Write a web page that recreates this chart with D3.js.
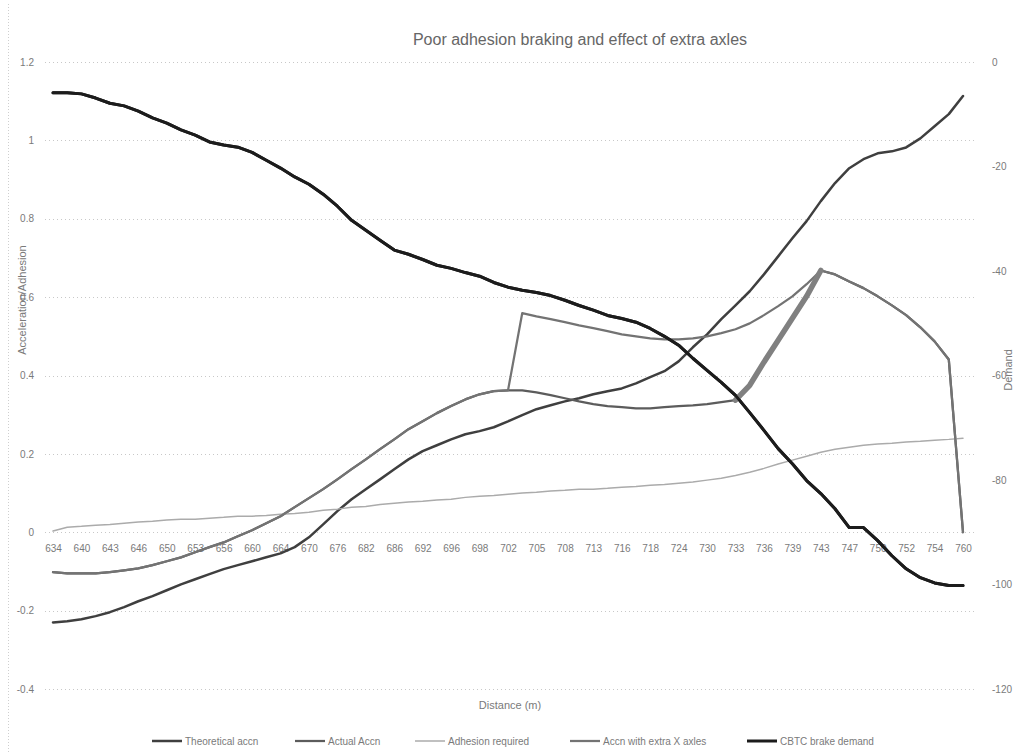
<!DOCTYPE html>
<html>
<head>
<meta charset="utf-8">
<script src="https://cdn.jsdelivr.net/npm/d3@7"></script>
<style>
  html, body { margin: 0; padding: 0; background: #fff; }
  svg { display: block; font-family: "Liberation Sans", "Open Sans", sans-serif; }
</style>
</head>
<body>
<svg id="chart" width="1013" height="754"></svg>
<script>
// Distance labels shown along the category axis (every second sample)
const distanceLabels = [634, 640, 643, 646, 650, 653, 656, 660, 664, 670, 676, 682, 686, 692, 696, 698,
  702, 705, 708, 713, 716, 718, 724, 730, 733, 736, 739, 743, 747, 750, 752, 754, 760];

// Left axis series (acceleration / adhesion)
const theoreticalAccn = [-0.230, -0.227, -0.222, -0.214, -0.204, -0.191, -0.176, -0.163, -0.148, -0.133,
  -0.120, -0.107, -0.094, -0.084, -0.074, -0.064, -0.054, -0.038, -0.013, 0.020,
  0.054, 0.084, 0.110, 0.135, 0.161, 0.186, 0.207, 0.222, 0.237, 0.250,
  0.258, 0.268, 0.283, 0.299, 0.314, 0.324, 0.334, 0.342, 0.352, 0.360,
  0.367, 0.380, 0.396, 0.411, 0.436, 0.472, 0.505, 0.544, 0.579, 0.615,
  0.658, 0.704, 0.750, 0.794, 0.845, 0.891, 0.929, 0.952, 0.967, 0.972,
  0.982, 1.005, 1.036, 1.067, 1.113];

const actualAccn = [-0.102, -0.105, -0.105, -0.105, -0.102, -0.097, -0.092, -0.084, -0.074, -0.064,
  -0.051, -0.038, -0.026, -0.010, 0.005, 0.023, 0.041, 0.064, 0.087, 0.110,
  0.135, 0.161, 0.186, 0.212, 0.237, 0.263, 0.283, 0.304, 0.322, 0.339,
  0.352, 0.360, 0.362, 0.362, 0.357, 0.350, 0.342, 0.334, 0.327, 0.322,
  0.319, 0.316, 0.316, 0.319, 0.322, 0.324, 0.327, 0.332, 0.337, 0.375,
  0.434, 0.490, 0.546, 0.602, 0.668, 0.658, 0.640, 0.623, 0.602, 0.579,
  0.554, 0.523, 0.487, 0.441, 0];

const adhesionRequired = [0.003, 0.013, 0.015, 0.018, 0.020, 0.023, 0.026, 0.028, 0.031, 0.033,
  0.033, 0.036, 0.038, 0.041, 0.041, 0.043, 0.046, 0.048, 0.051, 0.056,
  0.059, 0.064, 0.066, 0.071, 0.074, 0.077, 0.079, 0.082, 0.084, 0.089,
  0.092, 0.094, 0.097, 0.100, 0.102, 0.105, 0.107, 0.110, 0.110, 0.112,
  0.115, 0.117, 0.120, 0.122, 0.125, 0.128, 0.133, 0.138, 0.145, 0.153,
  0.163, 0.174, 0.184, 0.194, 0.204, 0.212, 0.217, 0.222, 0.225, 0.227,
  0.230, 0.232, 0.235, 0.237, 0.240];

const accnExtraAxles = [-0.102, -0.105, -0.105, -0.105, -0.102, -0.097, -0.092, -0.084, -0.074, -0.064,
  -0.051, -0.038, -0.026, -0.010, 0.005, 0.023, 0.041, 0.064, 0.087, 0.110,
  0.135, 0.161, 0.186, 0.212, 0.237, 0.263, 0.283, 0.304, 0.322, 0.339,
  0.352, 0.360, 0.362, 0.559, 0.551, 0.544, 0.536, 0.528, 0.521, 0.513,
  0.505, 0.500, 0.495, 0.492, 0.492, 0.495, 0.500, 0.508, 0.518, 0.533,
  0.554, 0.577, 0.602, 0.633, 0.668, 0.658, 0.640, 0.623, 0.602, 0.579,
  0.554, 0.523, 0.487, 0.441, 0];

// Right axis series (brake demand, %)
const cbtcBrakeDemand = [-5.9, -5.9, -6.1, -6.9, -7.9, -8.4, -9.4, -10.7, -11.7, -13.0,
  -14.0, -15.3, -15.9, -16.3, -17.3, -18.8, -20.3, -22.0, -23.4, -25.3,
  -27.6, -30.3, -32.2, -34.1, -36.0, -36.8, -37.8, -38.9, -39.5, -40.3,
  -41.0, -42.2, -43.1, -43.7, -44.1, -44.7, -45.6, -46.6, -47.5, -48.5,
  -49.1, -49.8, -51.0, -52.5, -54.2, -56.7, -59.0, -61.3, -63.8, -67.1,
  -70.5, -74.0, -76.9, -80.1, -82.6, -85.5, -89.1, -89.1, -91.6, -94.5,
  -97.0, -98.7, -99.7, -100.2, -100.2];

const leftTicks = [1.2, 1, 0.8, 0.6, 0.4, 0.2, 0, -0.2, -0.4];
const rightTicks = [0, -20, -40, -60, -80, -100, -120];

const svg = d3.select("#chart");
const plot = { left: 45, right: 975, top: 62, bottom: 689 };

const n = theoreticalAccn.length;
const x = d3.scaleLinear().domain([0, n - 1]).range([53, 963]);
const yL = d3.scaleLinear().domain([-0.4, 1.2]).range([plot.bottom, plot.top]);
const yR = d3.scaleLinear().domain([-120, 0]).range([plot.bottom, plot.top]);

const textColor = "#7a7a7a";

// Chart area border
svg.append("line")
  .attr("x1", 8.5).attr("x2", 8.5).attr("y1", 4).attr("y2", 754)
  .attr("stroke", "#cfcfcf").attr("stroke-dasharray", "1,2");

// Horizontal gridlines
svg.append("g").selectAll("line").data(leftTicks).join("line")
  .attr("x1", plot.left).attr("x2", plot.right)
  .attr("y1", d => Math.round(yL(d)) + 0.5).attr("y2", d => Math.round(yL(d)) + 0.5)
  .attr("stroke", "#c8c8c8").attr("stroke-width", 1).attr("stroke-dasharray", "1,3");

// Left axis
const gL = svg.append("g").attr("transform", `translate(${plot.left - 8},0)`)
  .call(d3.axisLeft(yL).tickValues(leftTicks).tickSize(0).tickFormat(d => String(d)));
gL.select(".domain").remove();
gL.selectAll("text").attr("fill", textColor).attr("font-size", 10);

// Right axis
const gR = svg.append("g").attr("transform", `translate(${plot.right + 14},0)`)
  .call(d3.axisRight(yR).tickValues(rightTicks).tickSize(0).tickFormat(d => String(d)));
gR.select(".domain").remove();
gR.selectAll("text").attr("fill", textColor).attr("font-size", 10);

// Category axis labels
const gX = svg.append("g").attr("transform", `translate(0,${yL(0)})`)
  .call(d3.axisBottom(x).tickValues(d3.range(0, n, 2)).tickSize(0).tickPadding(13)
    .tickFormat((d, i) => distanceLabels[i]));
gX.select(".domain").remove();
gX.selectAll("text").attr("fill", textColor).attr("font-size", 10);

// Titles
svg.append("text").attr("x", 580).attr("y", 45).attr("text-anchor", "middle")
  .attr("font-size", 16).attr("fill", "#666").text("Poor adhesion braking and effect of extra axles");
svg.append("text").attr("x", 510).attr("y", 709).attr("text-anchor", "middle")
  .attr("font-size", 11).attr("fill", textColor).text("Distance (m)");
svg.append("text").attr("transform", "translate(26,300) rotate(-90)").attr("text-anchor", "middle")
  .attr("font-size", 11).attr("fill", textColor).text("Acceleration/Adhesion");
svg.append("text").attr("transform", "translate(1012,370) rotate(-90)").attr("text-anchor", "middle")
  .attr("font-size", 11).attr("fill", textColor).text("Demand");

// Series definitions
const series = [
  { name: "Theoretical accn", values: theoreticalAccn, y: yL, color: "#3f3f3f", width: 2.5 },
  { name: "Actual Accn", values: actualAccn, y: yL, color: "#5c5c5c", width: 2.25 },
  { name: "Adhesion required", values: adhesionRequired, y: yL, color: "#ababab", width: 1.5 },
  { name: "Accn with extra X axles", values: accnExtraAxles, y: yL, color: "#737373", width: 2.25 },
  { name: "CBTC brake demand", values: cbtcBrakeDemand, y: yR, color: "#1c1c1c", width: 3 }
];

const lines = svg.append("g").attr("fill", "none").attr("stroke-linejoin", "round").attr("stroke-linecap", "round");
series.forEach(s => {
  const gen = d3.line().x((d, i) => x(i)).y(d => s.y(d));
  lines.append("path").datum(s.values)
    .attr("d", gen).attr("stroke", s.color).attr("stroke-width", s.width);
});

// Heavier stroke where the actual acceleration climbs back to its peak
const recoverIdx = d3.range(48, 55);
lines.append("path").datum(recoverIdx)
  .attr("d", d3.line().x(i => x(i)).y(i => yL(actualAccn[i])))
  .attr("stroke", "#808080").attr("stroke-width", 5.5);

// Redraw brake demand on top
lines.append("path").datum(cbtcBrakeDemand)
  .attr("d", d3.line().x((d, i) => x(i)).y(d => yR(d)))
  .attr("stroke", "#1c1c1c").attr("stroke-width", 3);

// Legend
const legendPos = [152, 295, 415, 570, 747];
const lg = svg.append("g").attr("transform", "translate(0,741)");
series.forEach((s, i) => {
  const g = lg.append("g").attr("transform", `translate(${legendPos[i]},0)`);
  g.append("line").attr("x1", 0).attr("x2", 30).attr("y1", 0).attr("y2", 0)
    .attr("stroke", s.color).attr("stroke-width", s.width);
  g.append("text").attr("x", 33).attr("y", 3.5).attr("font-size", 10)
    .attr("fill", textColor).text(s.name);
});
</script>
</body>
</html>
